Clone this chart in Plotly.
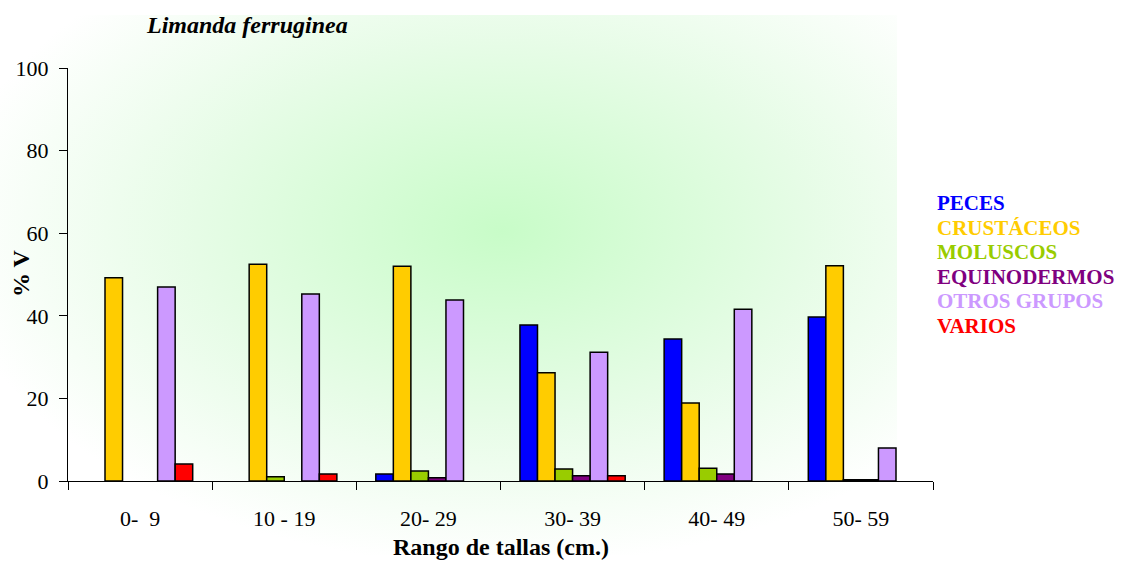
import base64
import plotly.graph_objects as go

categories = ["0-  9", "10 - 19", "20- 29", "30- 39", "40- 49", "50- 59"]
series_names = ["PECES", "CRUSTÁCEOS", "MOLUSCOS", "EQUINODERMOS", "OTROS GRUPOS", "VARIOS"]
peces = [None, None, 1.7, 37.8, 34.4, 39.7]
crustaceos = [49.2, 52.5, 52.0, 26.2, 18.9, 52.1]
moluscos = [None, 1.0, 2.4, 2.9, 3.1, 0.3]
equinodermos = [None, None, 0.8, 1.3, 1.7, 0.3]
otros_grupos = [47.0, 45.3, 43.8, 31.2, 41.6, 8.0]
varios = [4.1, 1.7, None, 1.3, None, None]
y_ticks = [0, 20, 40, 60, 80, 100]

series_values = [peces, crustaceos, moluscos, equinodermos, otros_grupos, varios]
bar_colors = ["#0000FF", "#FFCC00", "#99CC00", "#800080", "#CC99FF", "#FF0000"]
text_colors = ["#0000FF", "#FFCC00", "#99CC00", "#800080", "#CC99FF", "#FF0000"]

FONT = "Liberation Serif"
W, H = 1128, 562
L, R, T, B = 68, 195, 68, 81

fig = go.Figure()
for name, vals, col in zip(series_names, series_values, bar_colors):
    fig.add_trace(go.Bar(
        x=categories, y=vals, name=name,
        marker=dict(color=col, line=dict(color="black", width=1.5)),
        showlegend=False,
    ))

# background gradient image
svg = (
    '<svg xmlns="http://www.w3.org/2000/svg" width="900" height="540" viewBox="0 0 900 540">'
    '<defs><radialGradient id="g" cx="0.56" cy="0.40" r="0.62" gradientUnits="objectBoundingBox">'
    '<stop offset="0" stop-color="#c8fcc8"/><stop offset="0.55" stop-color="#e6fce6"/>'
    '<stop offset="1" stop-color="#ffffff"/></radialGradient></defs>'
    '<rect x="0" y="0" width="900" height="540" fill="url(#g)"/></svg>'
)
src = "data:image/svg+xml;base64," + base64.b64encode(svg.encode()).decode()
pw, ph = W - L - R, H - T - B


def px(x):
    return (x - L) / pw


def py(y):
    return (H - B - y) / ph


fig.add_layout_image(dict(
    source=src, xref="paper", yref="paper", x=px(0), y=py(15),
    sizex=897 / pw, sizey=540 / ph, xanchor="left", yanchor="top",
    sizing="stretch", layer="below",
))

# legend as coloured text
leg_y0 = 203
for i, (name, col) in enumerate(zip(series_names, text_colors)):
    fig.add_annotation(
        text="<b>%s</b>" % name, xref="paper", yref="paper",
        x=px(935), y=py(leg_y0 + i * 24.6), xanchor="left", yanchor="middle",
        showarrow=False, font=dict(family=FONT, size=21, color=col),
    )

fig.add_annotation(
    text="<b><i>Limanda ferruginea</i></b>", xref="paper", yref="paper",
    x=px(144), y=py(25), xanchor="left", yanchor="middle",
    showarrow=False, font=dict(family=FONT, size=24, color="black"),
)
fig.add_annotation(
    text="<b>Rango de tallas (cm.)</b>", xref="paper", yref="paper",
    x=px(501), y=py(547), xanchor="center", yanchor="middle",
    showarrow=False, font=dict(family=FONT, size=24, color="black"),
)
fig.add_annotation(
    text="<b>% V</b>", xref="paper", yref="paper", textangle=-90,
    x=px(21), y=py(273), xanchor="center", yanchor="middle",
    showarrow=False, font=dict(family=FONT, size=24, color="black"),
)

fig.update_layout(
    width=W, height=H,
    margin=dict(l=L, r=R, t=T, b=B, autoexpand=False),
    paper_bgcolor="white", plot_bgcolor="rgba(0,0,0,0)",
    barmode="group", bargap=0.27, bargroupgap=0,
    font=dict(family=FONT, size=22, color="black"),
    xaxis=dict(
        automargin=False,
        showline=True, linecolor="black", linewidth=1,
        ticks="outside", tickson="boundaries", ticklen=8, tickcolor="black",
        ticklabelstandoff=18,
        showgrid=False, zeroline=False,
    ),
    yaxis=dict(
        automargin=False,
        range=[0, 100], tickvals=y_ticks, showline=True, linecolor="black", linewidth=1,
        ticks="outside", ticklen=8, tickcolor="black", showgrid=False, zeroline=False,
        ticklabelstandoff=6,
    ),
)

fig.write_html("out.html")
